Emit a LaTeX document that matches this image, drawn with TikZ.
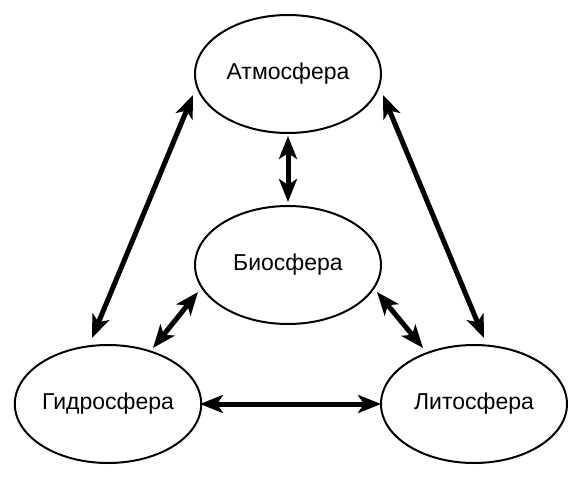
\documentclass[tikz,border=0pt]{standalone}
\usepackage{fontspec}
\setmainfont{Liberation Sans}
\usetikzlibrary{arrows.meta,shapes.geometric}
\tikzset{
  sphere/.style={ellipse, draw=black, line width=2pt, minimum width=186pt, minimum height=118pt, inner sep=0pt, font=\fontsize{23}{26}\selectfont},
  link/.style={line width=5pt, draw=black, {Stealth[length=23pt,width=18pt,inset=6pt]}-{Stealth[length=23pt,width=18pt,inset=6pt]}},
}
\begin{document}
\begin{tikzpicture}[x=1pt,y=-1pt]
\useasboundingbox (0,0) rectangle (587,477);
\node[sphere] (atm) at (288,74) {Атмосфера};
\node[sphere] (bio) at (288,265) {Биосфера};
\node[sphere] (hyd) at (108,404) {Гидросфера};
\node[sphere] (lit) at (474,404) {Литосфера};
% vertical
\draw[link] ([shift={(0,62)}]atm.center) -- ([shift={(0,-63)}]bio.center);
% horizontal
\draw[link] ([shift={(92,0)}]hyd.center) -- ([shift={(-93,0)}]lit.center);
% long diagonals
\draw[link] ([shift={(-95,21)}]atm.center) -- ([shift={(-16,-66)}]hyd.center);
\draw[link] ([shift={(95,21)}]atm.center) -- ([shift={(10,-66)}]lit.center);
% short diagonals
\draw[link] ([shift={(-90,27)}]bio.center) -- ([shift={(45,-56)}]hyd.center);
\draw[link] ([shift={(89,27)}]bio.center) -- ([shift={(-51,-56)}]lit.center);
\end{tikzpicture}
\end{document}
